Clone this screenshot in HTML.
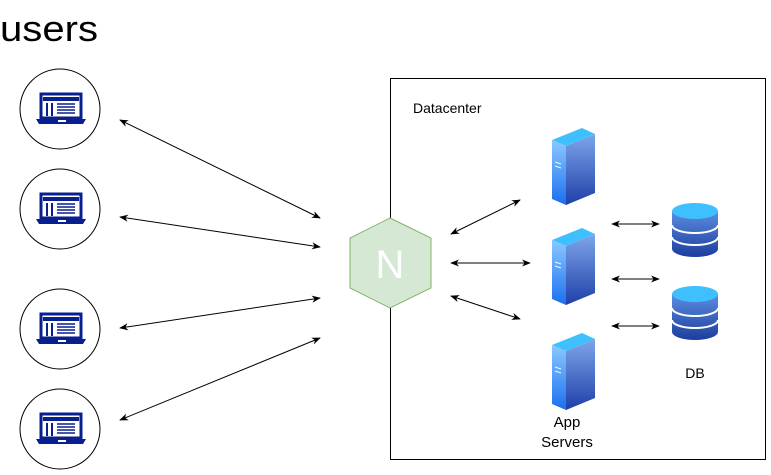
<!DOCTYPE html>
<html><head><style>
body{margin:0;width:771px;height:470px;background:#fff;overflow:hidden}
text{font-family:"Liberation Sans",sans-serif}
</style></head><body>
<svg width="771" height="470" xmlns="http://www.w3.org/2000/svg">
<defs>
<marker id="a" viewBox="0 0 10 10" refX="9" refY="5" markerWidth="9" markerHeight="9" orient="auto-start-reverse"><path d="M0,1 L10,5 L0,9 L3,5z" fill="#000"/></marker>
<linearGradient id="sr" x1="0" y1="0" x2="0" y2="1"><stop offset="0" stop-color="#7ea6ea"/><stop offset="1" stop-color="#1f3fa8"/></linearGradient>
<linearGradient id="sl" x1="0" y1="0" x2="0" y2="1"><stop offset="0" stop-color="#8cc8ff"/><stop offset="1" stop-color="#1a6ff0"/></linearGradient>
<linearGradient id="db" x1="0" y1="0" x2="0" y2="1"><stop offset="0" stop-color="#5b8ee0"/><stop offset="1" stop-color="#1d3d9e"/></linearGradient>
<g id="lap"><rect x="-19" y="-15" width="40" height="24" fill="none" stroke="#0a1f8f" stroke-width="3"/><rect x="-17" y="-12" width="36" height="4" fill="#0a1f8f"/><rect x="-14" y="-6" width="2" height="13" fill="#0a1f8f"/><rect x="-9" y="-6" width="2" height="13" fill="#0a1f8f"/><path d="M-3,-5h18M-3,-2h18M-3,1h18M-3,4h18" stroke="#0a1f8f" stroke-width="1.5"/><path d="M-24,10h50l-3,5h-44z" fill="#0a1f8f"/><rect x="-2" y="11" width="8" height="2" fill="#fff"/></g>
<g id="srv"><path d="M0,12 L30,0 L43,6 L14,18z" fill="#3ec0ff"/><path d="M0,12 L14,18 L14,77 L0,71z" fill="url(#sl)"/><path d="M14,18 L43,6 L43,65 L14,77z" fill="url(#sr)"/><path d="M3,34l6,2M3,38l6,2" stroke="#dff" stroke-width="1"/></g>
<g id="cyl"><path d="M0,8 v38 a23,8 0 0 0 46,0 v-38" fill="url(#db)"/><path d="M0,22 a23,8 0 0 0 46,0 M0,34 a23,8 0 0 0 46,0" fill="none" stroke="#fff" stroke-width="2"/><ellipse cx="23" cy="8" rx="23" ry="8" fill="#3ec0ff"/></g>
</defs>
<text x="0" y="41" font-size="36" textLength="98" lengthAdjust="spacingAndGlyphs">users</text>
<g fill="none" stroke="#000" stroke-width="1">
<circle cx="60" cy="109" r="40"/><circle cx="60" cy="209" r="40"/><circle cx="60" cy="329" r="40"/><circle cx="60" cy="429" r="40"/>
</g>
<use href="#lap" x="60" y="109"/><use href="#lap" x="60" y="209"/><use href="#lap" x="60" y="329"/><use href="#lap" x="60" y="429"/>
<rect x="390.5" y="78.5" width="375" height="381" fill="none" stroke="#000" stroke-width="1"/>
<text x="413" y="113" font-size="14">Datacenter</text>
<polygon points="390,218 431,238 431,288 390,308 350,288 350,238" fill="#d5e8d4" stroke="#82b366"/>
<text x="390" y="278" font-size="40" fill="#fff" text-anchor="middle">N</text>
<g stroke="#000" stroke-width="1" marker-start="url(#a)" marker-end="url(#a)">
<line x1="120" y1="120" x2="320" y2="218"/><line x1="120" y1="217" x2="320" y2="247"/>
<line x1="120" y1="328" x2="320" y2="298"/><line x1="120" y1="420" x2="320" y2="338"/>
<line x1="451" y1="234" x2="520" y2="200"/><line x1="451" y1="263" x2="530" y2="263"/><line x1="451" y1="296" x2="520" y2="319"/>
<line x1="612" y1="224" x2="659" y2="224"/><line x1="612" y1="279" x2="659" y2="279"/><line x1="612" y1="326" x2="659" y2="326"/>
</g>
<use href="#srv" x="552" y="128"/><use href="#srv" x="552" y="228"/><use href="#srv" x="552" y="333"/>
<use href="#cyl" x="672" y="203"/><use href="#cyl" x="672" y="286"/>
<text x="695" y="378" font-size="14" text-anchor="middle">DB</text>
<text x="567" y="427" font-size="15" text-anchor="middle">App</text>
<text x="567" y="447" font-size="15" text-anchor="middle">Servers</text>
</svg>
</body></html>
